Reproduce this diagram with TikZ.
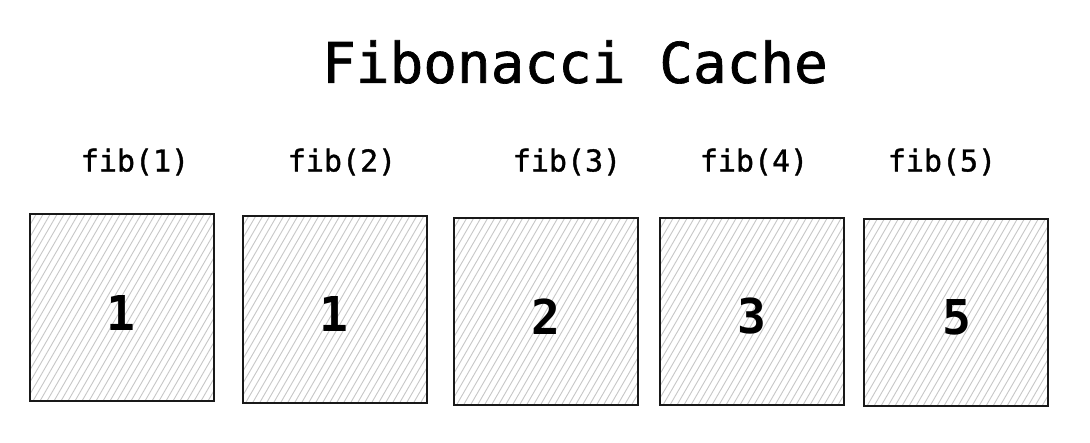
\documentclass[tikz,border=0pt]{standalone}
\usepackage{fontspec}
\setmonofont{DejaVu Sans Mono}
\newfontfamily\heavymono[FakeBold=1.2]{DejaVu Sans Mono}
\begin{document}
\begin{tikzpicture}[x=1pt,y=-1pt,
  cell/.style={draw=black!90, line width=2pt, fill=white, minimum width=184pt, minimum height=187pt, inner sep=0pt,
    path picture={\foreach \i in {-130,-123,...,200}
      \draw[black!22, line width=0.9pt] ([xshift=\i pt]path picture bounding box.south west) -- ++(110pt,190pt);}},
  num/.style={font=\ttfamily\bfseries\fontsize{48}{52}\selectfont, text=black},
  lab/.style={font=\heavymono\fontsize{30}{33}\selectfont, text=black},
  ttl/.style={font=\heavymono\fontsize{56}{60}\selectfont, text=black}]
\useasboundingbox[fill=white] (0,0) rectangle (1090,442);
\node[ttl] (title) at (575,62) {Fibonacci Cache};
\node[cell] (b1) at (122,307.5) {};
\node[cell] (b2) at (334.5,309.5) {};
\node[cell] (b3) at (545.5,311.5) {};
\node[cell] (b4) at (752,311.5) {};
\node[cell] (b5) at (956,312.5) {};
\node[num] (n1) at (121,313) {1};
\node[num] (n2) at (334,314) {1};
\node[num] (n3) at (546,317) {2};
\node[num] (n4) at (752,316) {3};
\node[num] (n5) at (957,317) {5};
\node[lab] (l1) at (135,162) {fib(1)};
\node[lab] (l2) at (342,162) {fib(2)};
\node[lab] (l3) at (567,162) {fib(3)};
\node[lab] (l4) at (754,162) {fib(4)};
\node[lab] (l5) at (942,162) {fib(5)};
\end{tikzpicture}
\end{document}
